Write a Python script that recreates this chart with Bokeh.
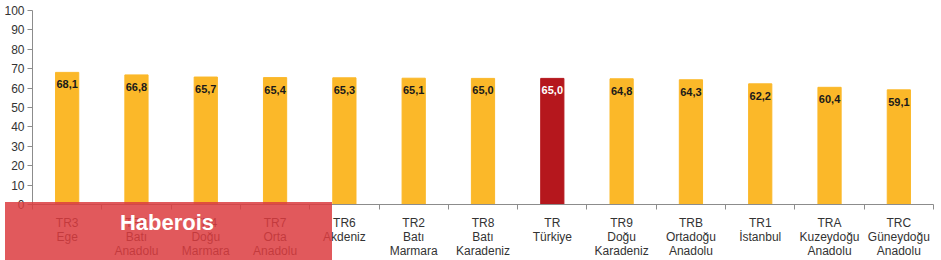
from bokeh.plotting import figure
from bokeh.models import FixedTicker, ColumnDataSource, Div
from bokeh.layouts import column
from bokeh.core.properties import value
from bokeh.embed import file_html
from bokeh.resources import INLINE

codes = ["TR3", "TR5", "TR4", "TR7", "TR6", "TR2", "TR8", "TR", "TR9", "TRB", "TR1", "TRA", "TRC"]
names = ["Ege", "Batı\nAnadolu", "Doğu\nMarmara", "Orta\nAnadolu", "Akdeniz", "Batı\nMarmara",
         "Batı\nKaradeniz", "Türkiye", "Doğu\nKaradeniz", "Ortadoğu\nAnadolu", "İstanbul",
         "Kuzeydoğu\nAnadolu", "Güneydoğu\nAnadolu"]
values = [68.1, 66.8, 65.7, 65.4, 65.3, 65.1, 65.0, 65.0, 64.8, 64.3, 62.2, 60.4, 59.1]
y_ticks = [0, 10, 20, 30, 40, 50, 60, 70, 80, 90, 100]

n = len(codes)
xs = [i + 0.5 for i in range(n)]
colors = ["#B5171D" if c == "TR" else "#FBB829" for c in codes]
tcolors = ["#FFFFFF" if c == "TR" else "#1A1A1A" for c in codes]
labels = [f"{v:.1f}".replace(".", ",") for v in values]

src = ColumnDataSource(dict(x=xs, top=values, color=colors, tcolor=tcolors, label=labels))

p = figure(width=941, height=260, x_range=(0, n), y_range=(0, 100),
           output_backend="svg", toolbar_location=None,
           min_border_left=32, min_border_right=8, min_border_top=10, min_border_bottom=55)
p.outline_line_color = None
p.xgrid.visible = False
p.ygrid.visible = False
p.background_fill_color = "white"

p.vbar(x="x", top="top", bottom=0, width=0.335, color="color", source=src)
p.text(x="x", y="top", text="label", text_color="tcolor", source=src,
       text_font=value("Liberation Sans"), text_font_style="bold", text_font_size="11px",
       text_align="center", text_baseline="middle", y_offset=12)

p.yaxis.ticker = FixedTicker(ticks=y_ticks)
p.yaxis.axis_line_color = "#8C8C8C"
p.yaxis.major_tick_line_color = "#8C8C8C"
p.yaxis.major_tick_out = 5
p.yaxis.major_tick_in = 0
p.yaxis.minor_tick_out = 0
p.yaxis.minor_tick_in = 0
p.yaxis.major_label_text_font = "Liberation Sans"
p.yaxis.major_label_text_font_size = "12px"
p.yaxis.major_label_text_color = "#333333"
p.yaxis.major_label_standoff = 3

p.xaxis.ticker = FixedTicker(ticks=xs, minor_ticks=list(range(n + 1)))
p.xaxis.major_label_overrides = {x: f"{c}\n{nm}" for x, c, nm in zip(xs, codes, names)}
p.xaxis.axis_line_color = "#8C8C8C"
p.xaxis.major_tick_out = 0
p.xaxis.major_tick_in = 0
p.xaxis.minor_tick_line_color = "#8C8C8C"
p.xaxis.minor_tick_out = 5
p.xaxis.minor_tick_in = 0
p.xaxis.major_label_text_font = "Liberation Sans"
p.xaxis.major_label_text_font_size = "12px"
p.xaxis.major_label_text_line_height = 1.0
p.xaxis.major_label_text_color = "#333333"
p.xaxis.major_label_standoff = 6

wm = Div(text="Haberois", width=327, height=58,
         styles={"position": "absolute", "left": "0px", "top": "197px", "z-index": "10",
                 "background-color": "rgba(220,60,64,0.85)", "color": "white",
                 "font-family": "Liberation Sans", "font-weight": "bold", "font-size": "22px",
                 "line-height": "26px", "text-align": "center", "box-sizing": "border-box",
                 "padding-top": "8px", "padding-right": "3px"})

layout = column(p, wm)
open("out.html", "w").write(file_html(layout, INLINE))
